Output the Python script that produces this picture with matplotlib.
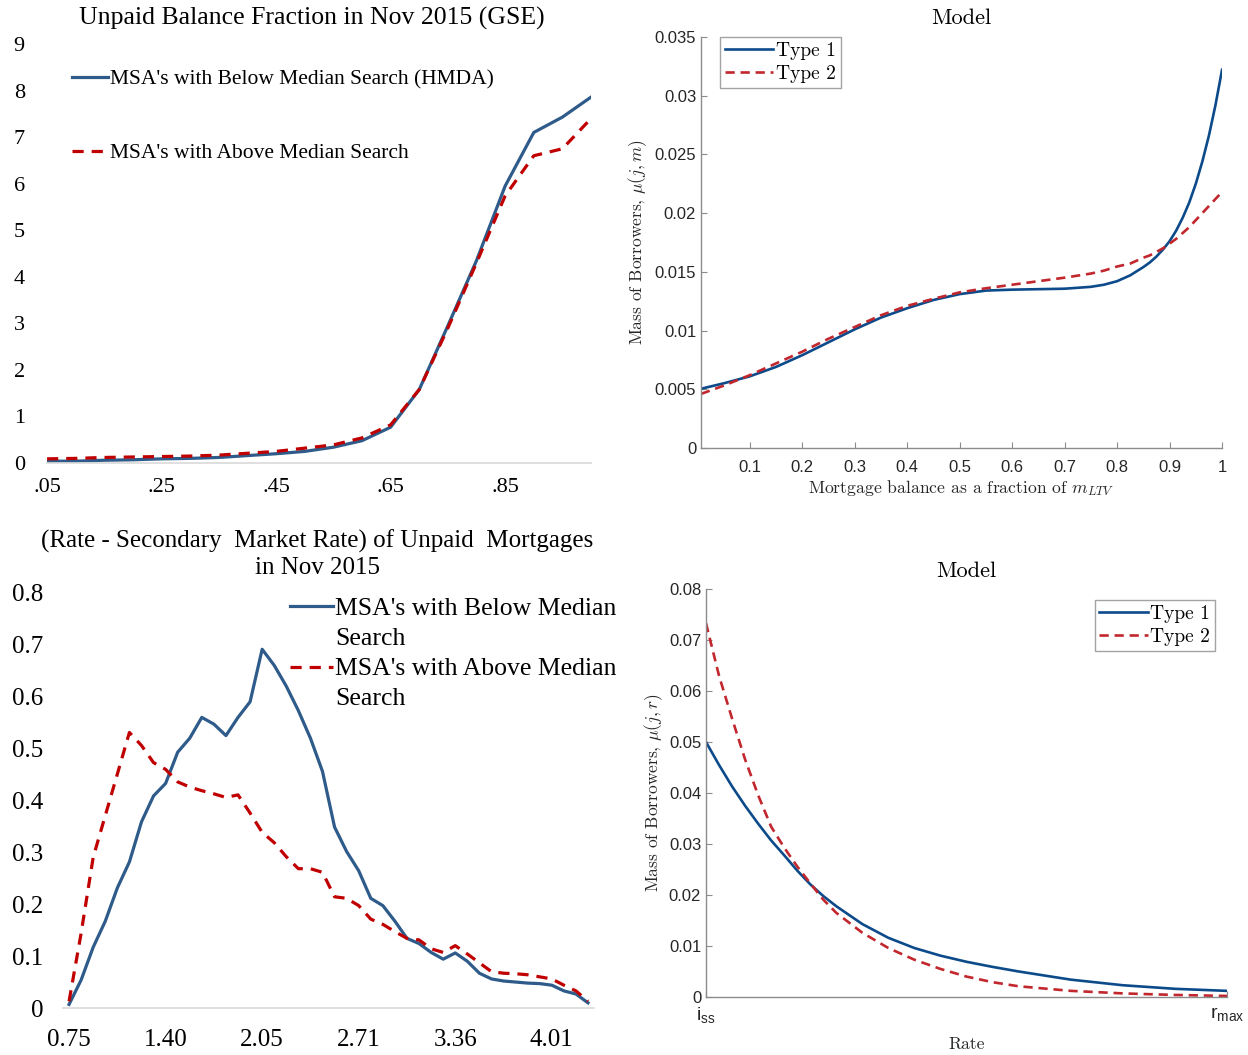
import matplotlib
matplotlib.use("Agg")
import matplotlib.pyplot as plt
from matplotlib.lines import Line2D

plt.rcParams['mathtext.fontset'] = 'cm'
plt.rcParams['axes.unicode_minus'] = False

# --- data ------------------------------------------------------------------
# top-left: unpaid balance fraction (GSE)
ltv_bins = [0.05, 0.10, 0.15, 0.20, 0.25, 0.30, 0.35, 0.40, 0.45, 0.50,
            0.55, 0.60, 0.65, 0.70, 0.75, 0.80, 0.85, 0.90, 0.95, 1.00]
ltv_tick_vals = [0.05, 0.25, 0.45, 0.65, 0.85]
ltv_tick_labels = ['.05', '.25', '.45', '.65', '.85']
below_balance = [0.04, 0.04, 0.06, 0.07, 0.09, 0.10, 0.12, 0.16, 0.20, 0.25,
                 0.34, 0.48, 0.77, 1.58, 2.95, 4.35, 5.95, 7.10, 7.43, 7.86]
above_balance = [0.09, 0.10, 0.12, 0.13, 0.14, 0.15, 0.17, 0.21, 0.25, 0.32,
                 0.39, 0.54, 0.82, 1.58, 2.90, 4.30, 5.74, 6.60, 6.75, 7.40]

# bottom-left: rate spread of unpaid mortgages
spread_labels = ['0.75', '1.40', '2.05', '2.71', '3.36', '4.01']
below_spread = [0.007, 0.054, 0.117, 0.167, 0.231, 0.281, 0.358, 0.408, 0.432, 0.492,
                0.519, 0.559, 0.546, 0.524, 0.559, 0.589, 0.690, 0.659, 0.619, 0.572,
                0.519, 0.455, 0.348, 0.301, 0.264, 0.211, 0.197, 0.167, 0.134, 0.124,
                0.107, 0.094, 0.106, 0.090, 0.067, 0.056, 0.052, 0.050, 0.048, 0.047,
                0.044, 0.033, 0.027, 0.010]
above_spread = [0.013, 0.144, 0.290, 0.370, 0.450, 0.530, 0.505, 0.472, 0.459, 0.435,
                0.425, 0.418, 0.412, 0.405, 0.410, 0.375, 0.338, 0.318, 0.291, 0.268,
                0.268, 0.261, 0.214, 0.211, 0.197, 0.171, 0.161, 0.147, 0.134, 0.131,
                0.114, 0.107, 0.120, 0.104, 0.087, 0.070, 0.067, 0.066, 0.064, 0.060,
                0.056, 0.044, 0.033, 0.013]

# top-right: model mass over mortgage balance
balance = [0.007, 0.05, 0.1, 0.15, 0.2, 0.25, 0.3, 0.35, 0.4, 0.45, 0.5, 0.55, 0.6,
           0.65, 0.7, 0.75, 0.775, 0.8, 0.825, 0.85, 0.8625, 0.875, 0.8875, 0.9,
           0.9125, 0.925, 0.9375, 0.95, 0.9625, 0.975, 0.9875, 1.0]
type1_m = [0.00504, 0.0055, 0.0061, 0.0069, 0.0079, 0.0090, 0.0101, 0.0111, 0.0119,
           0.0126, 0.0131, 0.0134, 0.01348, 0.01352, 0.01356, 0.01372, 0.0139, 0.0142,
           0.0147, 0.0154, 0.0158, 0.0163, 0.0169, 0.0176, 0.0185, 0.0196, 0.0209,
           0.0225, 0.0244, 0.0266, 0.0292, 0.0322]
type2_m = [0.0046, 0.0053, 0.0062, 0.0072, 0.0082, 0.0093, 0.0103, 0.0113, 0.0121,
           0.0127, 0.01325, 0.0136, 0.0139, 0.0142, 0.0145, 0.01485, 0.0151, 0.01545,
           0.0157, 0.0162, 0.0164, 0.0167, 0.0170, 0.0174, 0.0178, 0.0183, 0.0188,
           0.0194, 0.0200, 0.0206, 0.0212, 0.0218]

# bottom-right: model mass over rate (i_ss .. r_max scaled to 0..1)
rate = [0.0, 0.025, 0.05, 0.075, 0.1, 0.125, 0.15, 0.175, 0.2, 0.225, 0.25, 0.3,
        0.35, 0.4, 0.45, 0.5, 0.55, 0.6, 0.7, 0.8, 0.9, 1.0]
type1_r = [0.0500, 0.0455, 0.0413, 0.0375, 0.0340, 0.0307, 0.0278, 0.0248, 0.0221,
           0.0198, 0.0178, 0.0143, 0.0116, 0.0096, 0.0081, 0.0069, 0.0059, 0.0050,
           0.0034, 0.0023, 0.0016, 0.0012]
type2_r = [0.0733, 0.0630, 0.0546, 0.0466, 0.0396, 0.0334, 0.0293, 0.0256, 0.0223,
           0.0191, 0.0165, 0.0126, 0.0096, 0.0073, 0.0055, 0.0040, 0.0029, 0.0021,
           0.0012, 0.0007, 0.0004, 0.0002]

# --- styles ----------------------------------------------------------------
xl_blue = '#2E5B8A'
xl_red = '#C00000'
ml_blue = '#0C4A8A'
ml_red = '#C1272D'
times = 'Liberation Serif'
helv = 'Liberation Sans'
cm = 'cmr10'

fig = plt.figure(figsize=(12.48, 10.55), dpi=100)


def excel_axes(ax):
    for s in ['left', 'top', 'right']:
        ax.spines[s].set_visible(False)
    ax.spines['bottom'].set_color('#D9D9D9')
    ax.spines['bottom'].set_linewidth(1.2)
    ax.tick_params(length=0)


def matlab_axes(ax):
    for s in ['top', 'right']:
        ax.spines[s].set_visible(False)
    for s in ['left', 'bottom']:
        ax.spines[s].set_color('#8C8C8C')
        ax.spines[s].set_linewidth(1.0)
    ax.tick_params(direction='in', length=4, color='#8C8C8C', labelcolor='#262626',
                   labelsize=12)
    for t in ax.get_xticklabels() + ax.get_yticklabels():
        t.set_fontfamily(helv)


# top-left
ax1 = fig.add_axes([0.0377, 0.5611, 0.4359, 0.3972])
excel_axes(ax1)
ax1.plot(ltv_bins, below_balance, color=xl_blue, lw=2.3,
         label="MSA's with Below Median Search (HMDA)")
ax1.plot(ltv_bins, above_balance, color=xl_red, lw=2.3, dashes=(3.5, 2.5),
         label="MSA's with Above Median Search")
ax1.set_xlim(0.05, 1.0)
ax1.set_ylim(0, 9)
ax1.set_yticks(range(10))
ax1.set_xticks(ltv_tick_vals)
ax1.set_xticklabels(ltv_tick_labels)
for t in ax1.get_xticklabels() + ax1.get_yticklabels():
    t.set_fontfamily(times)
    t.set_fontsize(16)
ax1.tick_params(axis='y', pad=16)
ax1.tick_params(axis='x', pad=11)
ax1.set_title('Unpaid Balance Fraction in Nov 2015 (GSE)', fontfamily=times,
              fontsize=18.5, pad=14, x=0.486)
ax1.legend(loc='upper left', bbox_to_anchor=(0.046, 0.94), frameon=False,
           prop={'family': times, 'size': 15.5}, handlelength=1.65,
           handletextpad=0.12, labelspacing=2.5, borderpad=0, borderaxespad=0)

# bottom-left
ax3 = fig.add_axes([0.0505, 0.0445, 0.4255, 0.3943])
excel_axes(ax3)
idx = list(range(len(below_spread)))
ax3.plot(idx, below_spread, color=xl_blue, lw=2.3)
ax3.plot(idx, above_spread, color=xl_red, lw=2.3, dashes=(3.5, 2.5))
ax3.set_xlim(-0.5, len(idx) - 0.5)
ax3.set_ylim(0, 0.8)
ax3.set_yticks([0, 0.1, 0.2, 0.3, 0.4, 0.5, 0.6, 0.7, 0.8])
ax3.set_yticklabels(['0', '0.1', '0.2', '0.3', '0.4', '0.5', '0.6', '0.7', '0.8'])
ax3.set_xticks(idx[::8])
ax3.set_xticklabels(spread_labels)
for t in ax3.get_xticklabels() + ax3.get_yticklabels():
    t.set_fontfamily(times)
    t.set_fontsize(18)
ax3.tick_params(axis='y', pad=14)
ax3.tick_params(axis='x', pad=15)
ax3.set_title('(Rate - Secondary  Market Rate) of Unpaid  Mortgages\nin Nov 2015',
              fontfamily=times, fontsize=18, pad=13, linespacing=1.25, x=0.479)
# legend drawn by hand so the sample line sits on the first line of each label
leg_entries = [(xl_blue, None, "MSA's with Below Median", 0.966),
               (xl_red, (3.5, 2.5), "MSA's with Above Median", 0.820)]
for col, dash, txt, yy in leg_entries:
    ln = Line2D([0.4275, 0.5085], [yy, yy], transform=ax3.transAxes, color=col,
                lw=2.3, clip_on=False)
    if dash:
        ln.set_dashes(dash)
    ax3.add_line(ln)
    ax3.text(0.512, yy, txt, transform=ax3.transAxes, fontfamily=times,
             fontsize=18.5, va='center_baseline', ha='left')
    ax3.text(0.512, yy - 0.072, 'Search', transform=ax3.transAxes,
             fontfamily=times, fontsize=18.5, va='center_baseline', ha='left')

# top-right
ax2 = fig.add_axes([0.5617, 0.5754, 0.4175, 0.3896])
ax2.plot(balance, type1_m, color=ml_blue, lw=1.9, label='Type 1')
ax2.plot(balance, type2_m, color=ml_red, lw=1.9, dashes=(3.5, 2.2), label='Type 2')
ax2.set_xlim(0.007, 1.0)
ax2.set_ylim(0, 0.035)
ax2.set_xticks([0.1, 0.2, 0.3, 0.4, 0.5, 0.6, 0.7, 0.8, 0.9, 1.0])
ax2.set_xticklabels(['0.1', '0.2', '0.3', '0.4', '0.5', '0.6', '0.7', '0.8', '0.9', '1'])
ax2.set_yticks([0, 0.005, 0.01, 0.015, 0.02, 0.025, 0.03, 0.035])
ax2.set_yticklabels(['0', '0.005', '0.01', '0.015', '0.02', '0.025', '0.03', '0.035'])
matlab_axes(ax2)
ax2.tick_params(axis='x', pad=9)
ax2.set_title('Model', fontfamily=cm, fontsize=16, pad=9)
ax2.set_xlabel('Mortgage balance as a fraction of $m_{LTV}$', fontfamily=cm,
               fontsize=12.7, color='#262626', labelpad=2)
ax2.set_ylabel('Mass of Borrowers, $\\mu(j,m)$', fontfamily=cm, fontsize=12.5,
               color='#262626', labelpad=4)
lg2 = ax2.legend(loc='upper left', bbox_to_anchor=(0.0365, 1.0), fancybox=False,
                 edgecolor='#8C8C8C', prop={'family': cm, 'size': 14},
                 handlelength=2.5, handletextpad=0.12, labelspacing=0.25,
                 borderpad=0.25, borderaxespad=0)
lg2.get_frame().set_linewidth(1.0)

# bottom-right
ax4 = fig.add_axes([0.5657, 0.055, 0.4175, 0.3867])
ax4.plot(rate, type1_r, color=ml_blue, lw=1.9, label='Type 1')
ax4.plot(rate, type2_r, color=ml_red, lw=1.9, dashes=(3.5, 2.2), label='Type 2')
ax4.set_xlim(0, 1)
ax4.set_ylim(0, 0.08)
ax4.set_xticks([0, 1])
ax4.set_xticklabels(['$\\mathregular{i_{ss}}$', '$\\mathregular{r_{max}}$'])
ax4.set_yticks([0, 0.01, 0.02, 0.03, 0.04, 0.05, 0.06, 0.07, 0.08])
ax4.set_yticklabels(['0', '0.01', '0.02', '0.03', '0.04', '0.05', '0.06', '0.07', '0.08'])
matlab_axes(ax4)
ax4.tick_params(axis='x', pad=6, labelsize=14)
ax4.set_title('Model', fontfamily=cm, fontsize=16, pad=9)
ax4.set_xlabel('Rate', fontfamily=cm, fontsize=12.7, color='#262626', labelpad=8)
ax4.set_ylabel('Mass of Borrowers, $\\mu(j,r)$', fontfamily=cm, fontsize=12.5,
               color='#262626', labelpad=3)
lg4 = ax4.legend(loc='upper right', bbox_to_anchor=(0.977, 0.973), fancybox=False,
                 edgecolor='#8C8C8C', prop={'family': cm, 'size': 14},
                 handlelength=2.5, handletextpad=0.12, labelspacing=0.25,
                 borderpad=0.25, borderaxespad=0)
lg4.get_frame().set_linewidth(1.0)

fig.savefig('out.png', dpi=100)
